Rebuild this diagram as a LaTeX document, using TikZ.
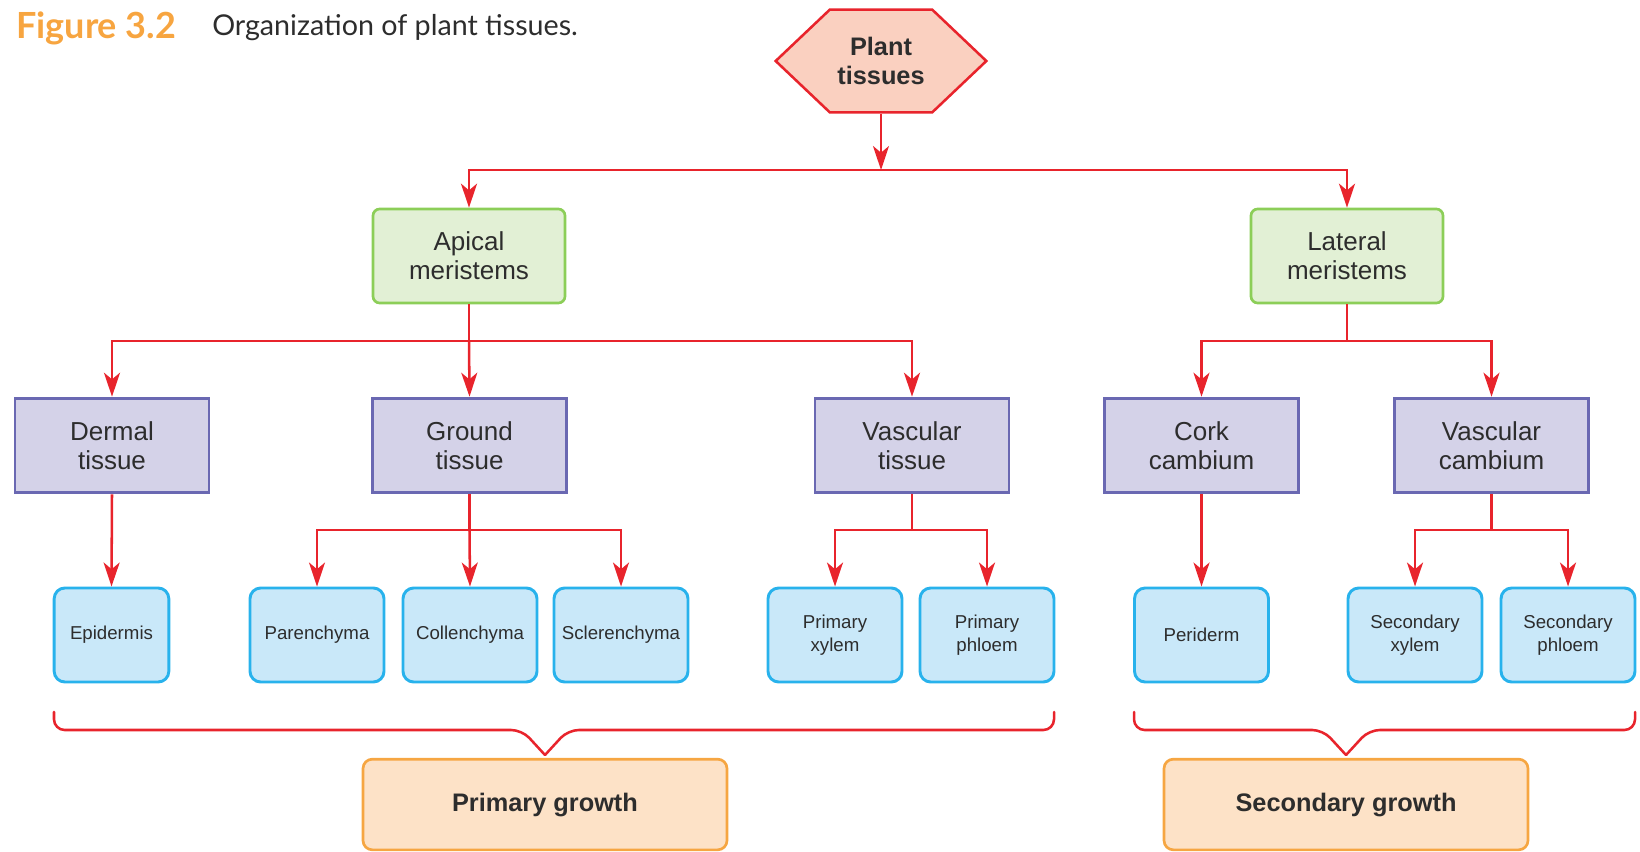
\documentclass[tikz,border=0pt]{standalone}
\usepackage{fontspec}
\setmainfont{Liberation Sans}
\newfontfamily\titlefont{Lato}
\usetikzlibrary{arrows.meta, shapes.symbols}

\definecolor{linkred}{RGB}{232,36,44}
\definecolor{hexfill}{RGB}{250,208,192}
\definecolor{greenfill}{RGB}{226,240,213}
\definecolor{greenline}{RGB}{140,206,88}
\definecolor{tissuefill}{RGB}{212,210,232}
\definecolor{tissueline}{RGB}{106,104,178}
\definecolor{cellfill}{RGB}{201,232,249}
\definecolor{cellline}{RGB}{40,178,236}
\definecolor{growfill}{RGB}{253,226,199}
\definecolor{growline}{RGB}{246,166,66}
\definecolor{figorange}{RGB}{247,165,64}
\definecolor{txt}{RGB}{45,45,45}

\begin{document}
\begin{tikzpicture}[x=0.75pt,y=0.75pt,yscale=-1,xscale=1,
  every node/.style={text=txt, align=center, inner sep=2pt},
  link/.style={draw=linkred, line width=1.9pt, -{Stealth[length=18pt,width=12pt,inset=5pt]}},
  bar/.style={draw=linkred, line width=1.9pt},
  brace/.style={draw=linkred, line width=1.9pt, rounded corners=8pt, line cap=round},
  hexbox/.style={signal, signal to=west and east, signal pointer angle=87, draw=linkred, line width=1.9pt, fill=hexfill, minimum width=158pt, minimum height=77pt, font=\fontsize{19}{22}\selectfont\bfseries},
  meristem/.style={draw=greenline, fill=greenfill, line width=2pt, rounded corners=5pt, minimum width=144pt, minimum height=70.5pt, font=\fontsize{19.5}{22}\selectfont},
  tissue/.style={draw=tissueline, fill=tissuefill, line width=2.2pt, minimum width=145.5pt, minimum height=71pt, font=\fontsize{19.5}{22}\selectfont},
  cell/.style={draw=cellline, fill=cellfill, line width=2.2pt, rounded corners=8pt, minimum width=100.5pt, minimum height=70.5pt, font=\fontsize{14}{17}\selectfont},
  growth/.style={draw=growline, fill=growfill, line width=2pt, rounded corners=7pt, minimum width=273pt, minimum height=68pt, font=\fontsize{19}{22}\selectfont\bfseries}]
\useasboundingbox (0,0) rectangle (1640,852);

% Title
\node[anchor=west, inner sep=0pt, font=\titlefont\fontsize{27}{30}\selectfont\bfseries, text=figorange] (fignum) at (16,28) {Figure 3.2};
\node[anchor=west, inner sep=0pt, font=\titlefont\fontsize{21.5}{24}\selectfont] (figcap) at (212,28) {Organization of plant tissues.};

% Top
\node[hexbox] (plant) at (881,61) {Plant\\tissues};
\node[meristem] (apical) at (469,256) {Apical\\meristems};
\node[meristem] (lateral) at (1347,256) {Lateral\\meristems};

% Tissues
\node[tissue] (dermal) at (112,445.5) {Dermal\\tissue};
\node[tissue] (ground) at (469.5,445.5) {Ground\\tissue};
\node[tissue] (vascular) at (912,445.5) {Vascular\\tissue};
\node[tissue] (cork) at (1201.5,445.5) {Cork\\cambium};
\node[tissue] (vcambium) at (1491.5,445.5) {Vascular\\cambium};

% Cells
\node[cell, minimum width=86pt] (epidermis) at (111.5,635) {Epidermis};
\node[cell] (parenchyma) at (317,635) {Parenchyma};
\node[cell] (collenchyma) at (470,635) {Collenchyma};
\node[cell] (sclerenchyma) at (621,635) {Sclerenchyma};
\node[cell] (pxylem) at (835,635) {Primary\\xylem};
\node[cell] (pphloem) at (987,635) {Primary\\phloem};
\node[cell] (periderm) at (1201.5,635) {Periderm};
\node[cell] (sxylem) at (1415,635) {Secondary\\xylem};
\node[cell] (sphloem) at (1568,635) {Secondary\\phloem};

% Growth
\node[growth] (primary) at (545,804.5) {Primary growth};
\node[growth] (secondary) at (1346,804.5) {Secondary growth};

% Branch points
\coordinate (busT) at (881,170);
\coordinate (busA) at (469,341);
\coordinate (busL) at (1347,341);
\coordinate (busG) at (469.5,530);
\coordinate (busV) at (912,530);
\coordinate (busC) at (1491.5,530);

% Connectors
\draw[link] (plant.south) -- (busT);
\draw[link] (busT) -| (apical.north);
\draw[link] (busT) -| (lateral.north);

\draw[bar] (apical.south) -- (busA);
\draw[link] (busA) -| (dermal.north);
\draw[link] (busA) -- (ground.north);
\draw[link] (busA) -| (vascular.north);

\draw[bar] (lateral.south) -- (busL);
\draw[link] (busL) -| (cork.north);
\draw[link] (busL) -| (vcambium.north);

\draw[link] (dermal.south) -- (epidermis.north);
\draw[bar] (ground.south) -- (busG);
\draw[link] (busG) -| (parenchyma.north);
\draw[link] (busG) -- (collenchyma.north);
\draw[link] (busG) -| (sclerenchyma.north);
\draw[bar] (vascular.south) -- (busV);
\draw[link] (busV) -| (pxylem.north);
\draw[link] (busV) -| (pphloem.north);
\draw[link] (cork.south) -- (periderm.north);
\draw[bar] (vcambium.south) -- (busC);
\draw[link] (busC) -| (sxylem.north);
\draw[link] (busC) -| (sphloem.north);

% Braces
\coordinate (tipP) at (545,755);
\coordinate (tipS) at (1346,755);
\draw[brace] (54,712) -- (54,730) -- (522,730) -- (tipP);
\draw[brace] (tipP) -- (568,730) -- (1054,730) -- (1054,712);
\draw[brace] (1134,712) -- (1134,730) -- (1323,730) -- (tipS);
\draw[brace] (tipS) -- (1369,730) -- (1635,730) -- (1635,712);

\end{tikzpicture}
\end{document}
